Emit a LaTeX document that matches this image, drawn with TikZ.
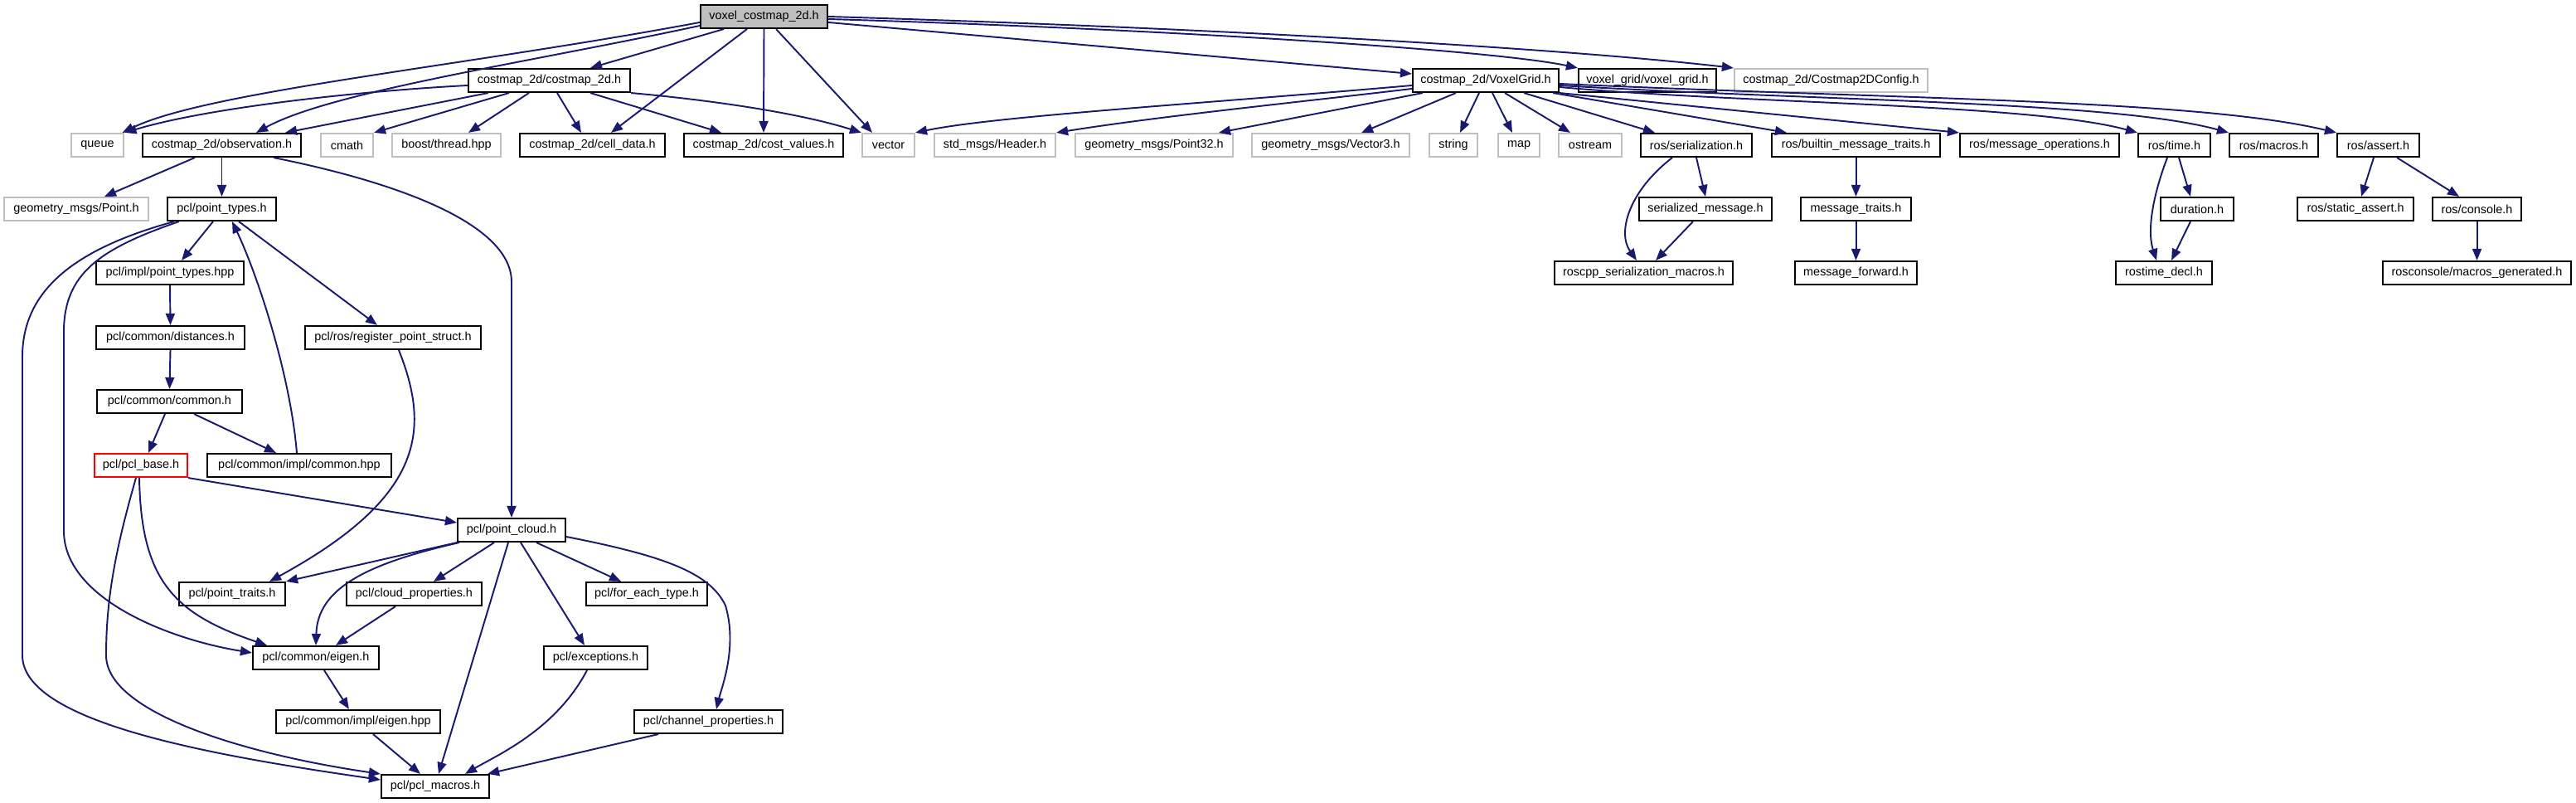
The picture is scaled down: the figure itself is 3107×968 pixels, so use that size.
\documentclass[tikz,border=0pt]{standalone}
\usepackage{fontspec}
\setmainfont{Liberation Sans}
\usetikzlibrary{arrows.meta}
\definecolor{edgeblue}{HTML}{191970}
\definecolor{extgray}{HTML}{BFBFBF}
\definecolor{rootgray}{HTML}{BFBFBF}
\tikzset{
  filebox/.style={draw=black, line width=0.6pt, minimum height=0.28cm, inner sep=0pt, font=\fontsize{4.1pt}{5pt}\selectfont, text=black},
  extbox/.style={filebox, draw=extgray},
  rootbox/.style={filebox, fill=rootgray},
  redbox/.style={filebox, draw=red},
  dep/.style={draw=edgeblue, line width=0.55pt, -{Triangle[length=0.14cm,width=0.11cm]}},
}
\begin{document}
\begin{tikzpicture}[x=0.01cm, y=-0.01cm]
\fill[white] (0,0) rectangle (3107,968);
\useasboundingbox (0,0) rectangle (3107,968);
% row 0
\node[rootbox, minimum width=1.53cm] (root) at (921.5,20) {voxel\_costmap\_2d.h};
% row 1
\node[filebox, minimum width=1.95cm] (costmap) at (662.5,97) {costmap\_2d/costmap\_2d.h};
\node[filebox, minimum width=1.76cm] (vgrid) at (1792,97) {costmap\_2d/VoxelGrid.h};
\node[filebox, minimum width=1.66cm] (vxg) at (1987,97) {voxel\_grid/voxel\_grid.h};
\node[extbox, minimum width=2.33cm] (config) at (2208.5,97) {costmap\_2d/Costmap2DConfig.h};
% row 2
\node[extbox, minimum width=0.63cm] (queue) at (117.5,175) {queue};
\node[filebox, minimum width=1.91cm] (obs) at (267.5,175) {costmap\_2d/observation.h};
\node[extbox, minimum width=0.63cm] (cmath) at (418.5,175) {cmath};
\node[extbox, minimum width=1.31cm] (boost) at (538.5,175) {boost/thread.hpp};
\node[filebox, minimum width=1.75cm] (celldata) at (714.5,175) {costmap\_2d/cell\_data.h};
\node[filebox, minimum width=1.92cm] (costvalues) at (921,175) {costmap\_2d/cost\_values.h};
\node[extbox, minimum width=0.63cm] (vector) at (1071.5,175) {vector};
\node[extbox, minimum width=1.46cm] (header) at (1200,175) {std\_msgs/Header.h};
\node[extbox, minimum width=1.90cm] (point32) at (1392,175) {geometry\_msgs/Point32.h};
\node[extbox, minimum width=1.90cm] (vector3) at (1605,175) {geometry\_msgs/Vector3.h};
\node[extbox, minimum width=0.58cm] (string) at (1753,175) {string};
\node[extbox, minimum width=0.50cm] (map) at (1832,175) {map};
\node[extbox, minimum width=0.76cm] (ostream) at (1918,175) {ostream};
\node[filebox, minimum width=1.34cm] (serial) at (2046,175) {ros/serialization.h};
\node[filebox, minimum width=2.03cm] (builtin) at (2238.5,175) {ros/builtin\_message\_traits.h};
\node[filebox, minimum width=1.92cm] (msgops) at (2460,175) {ros/message\_operations.h};
\node[filebox, minimum width=0.87cm] (rostime) at (2622.5,175) {ros/time.h};
\node[filebox, minimum width=1.07cm] (rosmacros) at (2742.5,175) {ros/macros.h};
\node[filebox, minimum width=0.99cm] (rosassert) at (2868.5,175) {ros/assert.h};
% row 3
\node[extbox, minimum width=1.74cm] (gpoint) at (92,252) {geometry\_msgs/Point.h};
\node[filebox, minimum width=1.31cm] (ptypes) at (267.5,252) {pcl/point\_types.h};
\node[filebox, minimum width=1.60cm] (sermsg) at (2057,252) {serialized\_message.h};
\node[filebox, minimum width=1.33cm] (msgtraits) at (2238.5,252) {message\_traits.h};
\node[filebox, minimum width=0.88cm] (duration) at (2650,252) {duration.h};
\node[filebox, minimum width=1.40cm] (sassert) at (2841,252) {ros/static\_assert.h};
\node[filebox, minimum width=1.07cm] (console) at (2987.5,252) {ros/console.h};
% row 4
\node[filebox, minimum width=1.78cm] (implpt) at (205,329) {pcl/impl/point\_types.hpp};
\node[filebox, minimum width=2.15cm] (roscppm) at (1982.5,329) {roscpp\_serialization\_macros.h};
\node[filebox, minimum width=1.47cm] (msgfwd) at (2238.5,329) {message\_forward.h};
\node[filebox, minimum width=1.16cm] (rtdecl) at (2610,329) {rostime\_decl.h};
\node[filebox, minimum width=2.27cm] (macrosgen) at (2987.5,329) {rosconsole/macros\_generated.h};
% row 5
\node[filebox, minimum width=1.79cm] (dist) at (205.5,407) {pcl/common/distances.h};
\node[filebox, minimum width=2.12cm] (register) at (474,407) {pcl/ros/register\_point\_struct.h};
% row 6
\node[filebox, minimum width=1.75cm] (common) at (204.5,484) {pcl/common/common.h};
% row 7
\node[redbox, minimum width=1.12cm] (pclbase) at (170,561) {pcl/pcl\_base.h};
\node[filebox, minimum width=2.22cm] (commonhpp) at (361,561) {pcl/common/impl/common.hpp};
% row 8
\node[filebox, minimum width=1.30cm] (pcloud) at (617,639) {pcl/point\_cloud.h};
% row 9
\node[filebox, minimum width=1.28cm] (ptraits) at (280,716) {pcl/point\_traits.h};
\node[filebox, minimum width=1.63cm] (cloudprops) at (499.5,716) {pcl/cloud\_properties.h};
\node[filebox, minimum width=1.46cm] (foreach) at (780,716) {pcl/for\_each\_type.h};
% row 10
\node[filebox, minimum width=1.52cm] (eigen) at (381,793) {pcl/common/eigen.h};
\node[filebox, minimum width=1.25cm] (exceptions) at (718.5,793) {pcl/exceptions.h};
% row 11
\node[filebox, minimum width=1.98cm] (eigenhpp) at (432,870) {pcl/common/impl/eigen.hpp};
\node[filebox, minimum width=1.79cm] (channel) at (854.5,870) {pcl/channel\_properties.h};
% row 12
\node[filebox, minimum width=1.30cm] (pclmacros) at (525,948) {pcl/pcl\_macros.h};

% edges from root
\draw[dep] ([yshift=-0.07cm]root.west) .. controls (560,80) and (250,110) .. ([xshift=0.30cm]queue.north);
\draw[dep] ([yshift=-0.11cm]root.west) .. controls (640,75) and (400,110) .. ([xshift=0.415cm]obs.north);
\draw[dep] ([xshift=-0.485cm]root.south) -- ([xshift=0.495cm]costmap.north);
\draw[dep] ([xshift=-0.205cm]root.south) -- ([xshift=0.225cm]celldata.north);
\draw[dep] (root.south) -- (costvalues.north);
\draw[dep] ([xshift=0.145cm]root.south) -- ([xshift=-0.195cm]vector.north);
\draw[dep] ([yshift=-0.07cm]root.east) -- ([yshift=0.08cm]vgrid.west);
\draw[dep] ([yshift=-0.03cm]root.east) .. controls (1400,35) and (1800,60) .. (vxg.north west);
\draw[dep] (root.east) .. controls (1500,35) and (1900,60) .. (config.north west);
% edges from costmap_2d.h
\draw[dep] ([yshift=-0.06cm]costmap.west) .. controls (430,110) and (250,130) .. ([xshift=0.33cm]queue.north);
\draw[dep] ([xshift=-0.735cm]costmap.south) -- ([xshift=0.765cm]obs.north);
\draw[dep] ([xshift=-0.485cm]costmap.south) -- (cmath.north east);
\draw[dep] ([xshift=-0.245cm]costmap.south) -- ([xshift=0.265cm]boost.north);
\draw[dep] ([xshift=0.095cm]costmap.south) -- ([xshift=-0.135cm]celldata.north);
\draw[dep] ([xshift=0.495cm]costmap.south) -- ([xshift=-0.51cm]costvalues.north);
\draw[dep] (costmap.south east) .. controls (850,120) and (960,135) .. (vector.north west);
% observation.h
\draw[dep] ([xshift=-0.325cm]obs.south) -- ([xshift=0.34cm]gpoint.north);
\draw[dep] (obs.south) -- (ptypes.north);
\draw[dep] ([xshift=0.625cm]obs.south) .. controls (480,220) and (617,270) .. (617,340) -- (pcloud.north);
% point_types.h
\draw[dep] ([xshift=-0.105cm]ptypes.south) -- ([xshift=0.14cm]implpt.north);
\draw[dep] ([xshift=0.205cm]ptypes.south) -- ([xshift=-0.19cm]register.north);
\draw[dep] ([xshift=-0.515cm]ptypes.south) .. controls (120,300) and (77,330) .. (77,400) -- (77,640) .. controls (77,720) and (200,770) .. ([yshift=0.06cm]eigen.west);
\draw[dep] ([xshift=-0.575cm]ptypes.south) .. controls (90,300) and (27,350) .. (27,430) -- (27,790) .. controls (27,870) and (250,910) .. ([yshift=0.08cm]pclmacros.west);
\draw[dep] (implpt.south) -- (dist.north);
\draw[dep] (dist.south) -- (common.north);
\draw[dep] ([xshift=-0.055cm]common.south) -- ([xshift=0.09cm]pclbase.north);
\draw[dep] ([xshift=0.295cm]common.south) -- ([xshift=-0.28cm]commonhpp.north);
\draw[dep] ([xshift=-0.03cm]commonhpp.north) .. controls (350,450) and (310,330) .. ([xshift=0.125cm]ptypes.south);
\draw[dep] ([xshift=0.07cm]register.south) .. controls (520,520) and (510,600) .. ([xshift=0.45cm]ptraits.north);
% pcl_base.h
\draw[dep] (pclbase.south east) -- ([yshift=0.09cm]pcloud.west);
\draw[dep] ([xshift=-0.02cm]pclbase.south) .. controls (170,700) and (210,740) .. ([xshift=-0.59cm]eigen.north);
\draw[dep] ([xshift=-0.06cm]pclbase.south) .. controls (140,660) and (128,720) .. (128,790) .. controls (128,860) and (300,910) .. (pclmacros.north west);
% point_cloud.h
\draw[dep] (pcloud.south west) -- (ptraits.north east);
\draw[dep] ([xshift=0.03cm]pcloud.south west) .. controls (440,680) and (383,710) .. (eigen.north);
\draw[dep] ([xshift=-0.21cm]pcloud.south) -- ([xshift=0.235cm]cloudprops.north);
\draw[dep] ([xshift=-0.04cm]pcloud.south) -- ([xshift=0.04cm]pclmacros.north);
\draw[dep] ([xshift=0.11cm]pcloud.south) -- ([xshift=-0.135cm]exceptions.north);
\draw[dep] ([xshift=0.30cm]pcloud.south) -- ([xshift=-0.31cm]foreach.north);
\draw[dep] ([yshift=-0.08cm]pcloud.east) .. controls (800,670) and (856,690) .. (875,730) .. controls (890,780) and (870,830) .. ([xshift=0.095cm]channel.north);
\draw[dep] ([xshift=-0.225cm]cloudprops.south) -- ([xshift=0.24cm]eigen.north);
\draw[dep] ([xshift=0.10cm]eigen.south) -- ([xshift=-0.11cm]eigenhpp.north);
\draw[dep] ([xshift=0.18cm]eigenhpp.south) -- ([xshift=-0.18cm]pclmacros.north);
\draw[dep] ([xshift=-0.105cm]exceptions.south) .. controls (670,880) and (600,910) .. ([xshift=0.36cm]pclmacros.north);
\draw[dep] ([xshift=-0.605cm]channel.south) -- ([xshift=-0.03cm]pclmacros.north east);
% VoxelGrid.h
\draw[dep] ([yshift=-0.06cm]vgrid.west) .. controls (1450,125) and (1200,140) .. (vector.north east);
\draw[dep] ([yshift=-0.10cm]vgrid.west) .. controls (1550,125) and (1400,140) .. (header.north east);
\draw[dep] ([xshift=-0.76cm]vgrid.south) -- ([xshift=0.78cm]point32.north);
\draw[dep] ([xshift=-0.36cm]vgrid.south) -- ([xshift=0.37cm]vector3.north);
\draw[dep] ([xshift=-0.08cm]vgrid.south) -- ([xshift=0.08cm]string.north);
\draw[dep] ([xshift=0.08cm]vgrid.south) -- ([xshift=-0.08cm]map.north);
\draw[dep] ([xshift=0.23cm]vgrid.south) -- ([xshift=-0.24cm]ostream.north);
\draw[dep] ([xshift=0.46cm]vgrid.south) -- ([xshift=-0.50cm]serial.north);
\draw[dep] ([xshift=0.81cm]vgrid.south) -- ([xshift=-0.835cm]builtin.north);
\draw[dep] (vgrid.south east) -- (msgops.north west);
\draw[dep] ([yshift=-0.08cm]vgrid.east) .. controls (2100,125) and (2450,125) .. (rostime.north west);
\draw[dep] ([yshift=-0.06cm]vgrid.east) .. controls (2200,122) and (2550,122) .. (rosmacros.north west);
\draw[dep] ([yshift=-0.04cm]vgrid.east) .. controls (2300,120) and (2650,120) .. (rosassert.north west);
% ros
\draw[dep] (serial.south) -- (sermsg.north);
\draw[dep] ([xshift=-0.29cm]serial.south) .. controls (1965,230) and (1950,280) .. ([xshift=-0.085cm]roscppm.north);
\draw[dep] ([xshift=-0.15cm]sermsg.south) -- ([xshift=0.145cm]roscppm.north);
\draw[dep] (builtin.south) -- (msgtraits.north);
\draw[dep] (msgtraits.south) -- (msgfwd.north);
\draw[dep] ([xshift=0.055cm]rostime.south) -- ([xshift=-0.08cm]duration.north);
\draw[dep] ([xshift=-0.085cm]rostime.south) .. controls (2595,240) and (2590,280) .. ([xshift=-0.09cm]rtdecl.north);
\draw[dep] ([xshift=-0.08cm]duration.south) -- ([xshift=0.09cm]rtdecl.north);
\draw[dep] ([xshift=-0.055cm]rosassert.south) -- ([xshift=0.07cm]sassert.north);
\draw[dep] ([xshift=0.225cm]rosassert.south) -- ([xshift=-0.215cm]console.north);
\draw[dep] (console.south) -- (macrosgen.north);
\end{tikzpicture}
\end{document}
